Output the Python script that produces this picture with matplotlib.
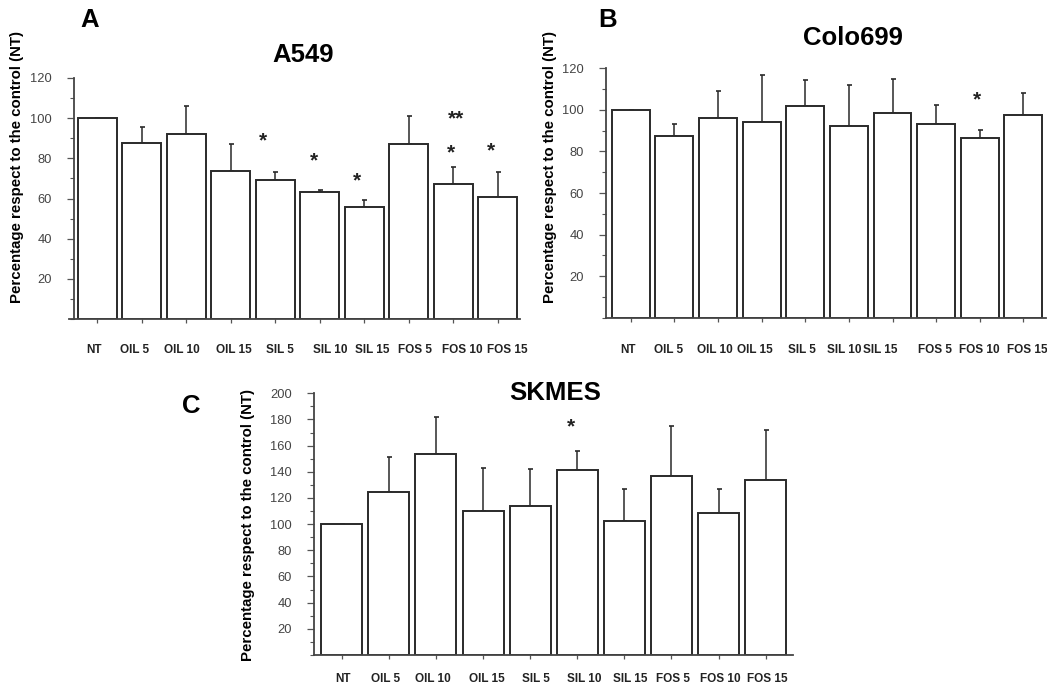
import numpy as np
import matplotlib.pyplot as plt
import matplotlib.transforms as mtransforms
from matplotlib.ticker import MultipleLocator

plt.rcParams['font.family'] = ['Liberation Sans', 'DejaVu Sans']

groups = ['NT', 'OIL 5', 'OIL 10', 'OIL 15', 'SIL 5', 'SIL 10', 'SIL 15', 'FOS 5', 'FOS 10', 'FOS 15']

# A549
a549_mean = [100, 87.8, 92.1, 73.7, 69.2, 63.1, 55.6, 87.3, 67.1, 60.6]
a549_top = [100, 95.4, 106.2, 87.3, 73.3, 64.4, 59.3, 101.1, 75.8, 73.3]
a549_star_x = [3.73, 4.87, 5.83, 7.95, 8.06, 8.85]
a549_star_y = [88.8, 78.8, 68.9, 82.8, 99.6, 83.7]
a549_star_txt = ['*', '*', '*', '*', '**', '*']

# Colo699
colo_mean = [100, 87.5, 96.1, 94.2, 101.8, 92.3, 98.5, 93.4, 86.6, 97.7]
colo_top = [100, 93.1, 109.0, 116.8, 114.4, 111.9, 115.0, 102.5, 90.5, 108.0]
colo_star_x = [7.93]
colo_star_y = [104.8]
colo_star_txt = ['*']

# SKMES
skmes_mean = [100, 124.6, 153.6, 110.3, 113.9, 141.4, 102.2, 136.8, 108.5, 134.0]
skmes_top = [100, 151.6, 182.1, 143.1, 142.4, 155.9, 126.9, 175.0, 126.9, 172.0]
skmes_star_x = [4.87]
skmes_star_y = [174.6]
skmes_star_txt = ['*']

# small horizontal shifts of the category labels (pixels), as in the original figure
shift_a = [-3.3, -7, -4.3, 2.8, 4.7, 10.3, 8, 6.5, 9, 9.3]
shift_b = [-2.7, -5.7, -3, -7, -3.5, -5, -12, -1, -0.7, 3.5]
shift_c = [1.6, -3.3, -2.7, 3.7, 5.6, 7.3, 5.4, 1.8, 1.4, 1.6]

W, H = 1047, 688
fig = plt.figure(figsize=(W / 100, H / 100), dpi=100)


def px_axes(x0, x1, ybot, ytop):
    return fig.add_axes([x0 / W, 1 - ybot / H, (x1 - x0) / W, (ybot - ytop) / H])


def panel(ax, mean, top, sx, sy, stxt, ymax, xlim, width, shifts, label_pad):
    x = np.arange(len(groups))
    mean = np.array(mean)
    err = np.array(top) - mean
    ax.bar(x, mean, width=width, color='white', edgecolor='#2a2a2a', linewidth=1.4, zorder=2)
    ax.errorbar(x, mean, yerr=[np.zeros_like(err), err], fmt='none', ecolor='#2a2a2a',
                elinewidth=1.1, capsize=1.8, capthick=1.2, zorder=1)
    for xi, yi, s in zip(sx, sy, stxt):
        ax.text(xi, yi, s, ha='center', va='center', fontsize=15, fontweight='bold', color='#222222')
    ax.set_xlim(*xlim)
    ax.set_ylim(0, ymax)
    ax.set_xticks(x)
    ax.set_xticklabels(groups, fontsize=8.5, fontweight='bold', color='#222222')
    ax.tick_params(axis='x', length=3, width=0.9, pad=label_pad, colors='#555555', labelcolor='#222222')
    for lab, d in zip(ax.get_xticklabels(), shifts):
        lab.set_transform(lab.get_transform() + mtransforms.ScaledTranslation(d / 100, 0, fig.dpi_scale_trans))
    ax.yaxis.set_minor_locator(MultipleLocator(10))
    ticks = np.arange(20, ymax + 1, 20)
    ax.set_yticks(ticks)
    ax.set_yticklabels([str(t) for t in ticks])
    ax.tick_params(axis='y', which='major', length=5, width=0.9, pad=11, labelsize=9.3,
                   colors='#555555', labelcolor='#444444')
    ax.tick_params(axis='y', which='minor', length=3, width=0.8, colors='#555555')
    for s in ['top', 'right']:
        ax.spines[s].set_visible(False)
    for s in ['left', 'bottom']:
        ax.spines[s].set_linewidth(1.3)
        ax.spines[s].set_color('#444444')
    ax.set_ylabel('Percentage respect to the control (NT)', fontsize=10.8, fontweight='bold')


axA = px_axes(74, 520, 319, 78)
panel(axA, a549_mean, a549_top, a549_star_x, a549_star_y, a549_star_txt, 120, (-0.52, 9.5), 0.88, shift_a, 15)
axA.spines['bottom'].set_bounds(-0.63, 9.5)
axA.yaxis.set_label_coords(-0.111, 0.632)
axA.text(0.513, 1.065, 'A549', transform=axA.transAxes, ha='center', va='baseline',
         fontsize=18.5, fontweight='bold')

axB = px_axes(606, 1046, 317.7, 68.3)
panel(axB, colo_mean, colo_top, colo_star_x, colo_star_y, colo_star_txt, 120, (-0.57, 9.52), 0.87, shift_b, 16)
axB.yaxis.set_label_coords(-0.111, 0.605)
axB.text(0.561, 1.093, 'Colo699', transform=axB.transAxes, ha='center', va='baseline',
         fontsize=18.5, fontweight='bold')

axC = px_axes(314, 793, 655, 393.3)
panel(axC, skmes_mean, skmes_top, skmes_star_x, skmes_star_y, skmes_star_txt, 200, (-0.588, 9.58), 0.87, shift_c, 10.3)
axC.yaxis.set_label_coords(-0.123, 0.497)
axC.text(0.503, 0.974, 'SKMES', transform=axC.transAxes, ha='center', va='baseline',
         fontsize=18.5, fontweight='bold')

fig.text(89.5 / W, 1 - 26.7 / H, 'A', fontsize=18.5, fontweight='bold', ha='center', va='baseline')
fig.text(608 / W, 1 - 26.7 / H, 'B', fontsize=18.5, fontweight='bold', ha='center', va='baseline')
fig.text(191 / W, 1 - 413 / H, 'C', fontsize=18.5, fontweight='bold', ha='center', va='baseline')

fig.savefig('out.png', dpi=100)
